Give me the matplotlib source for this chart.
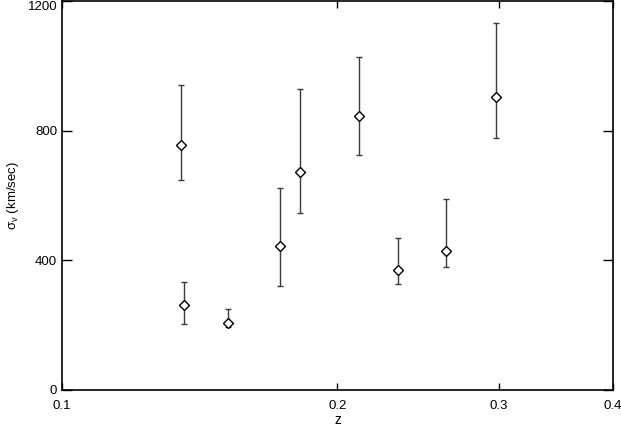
import numpy as np
import matplotlib
matplotlib.use("Agg")
import matplotlib.pyplot as plt
import matplotlib.transforms as mtransforms
from matplotlib.ticker import FixedLocator, NullLocator, FixedFormatter

# redshift and velocity dispersion, with asymmetric errors
z = [0.135, 0.136, 0.152, 0.173, 0.182, 0.211, 0.233, 0.263, 0.298]
sigma = [757, 261, 208, 443, 673, 846, 371, 428, 905]
err_hi = [941, 333, 250, 622, 929, 1028, 470, 590, 1132]
err_lo = [649, 203, 193, 320, 545, 726, 328, 378, 776]

xticks = [0.1, 0.2, 0.3, 0.4]
xlabels = ['0.1', '0.2', '0.3', '0.4']
yticks = [0, 400, 800, 1200]

plt.rcParams['font.family'] = ['Liberation Sans', 'DejaVu Sans']
plt.rcParams['mathtext.default'] = 'regular'

fig = plt.figure(figsize=(6.21, 4.28), dpi=100)
ax = fig.add_axes([0.0998, 0.0888, 0.8872, 0.9089])

sig = np.array(sigma)
yerr = [sig - np.array(err_lo), np.array(err_hi) - sig]
ax.errorbar(z, sigma, yerr=yerr, fmt='D', mfc='white', mec='black', mew=1.0,
            ms=5.2, ecolor='#3a3a3a', elinewidth=1.0, capsize=2, capthick=1.0)

ax.set_xscale('log')
ax.set_xlim(0.1, 0.4)
ax.set_ylim(0, 1200)
ax.xaxis.set_major_locator(FixedLocator(xticks))
ax.xaxis.set_major_formatter(FixedFormatter(xlabels))
ax.xaxis.set_minor_locator(NullLocator())
ax.set_yticks(yticks)

ax.tick_params(axis='x', direction='in', top=True, length=5, width=1,
               labelsize=9.5, pad=7)
ax.tick_params(axis='y', direction='in', right=True, length=7.5, width=1,
               labelsize=9.5, pad=3.5)
for s in ax.spines.values():
    s.set_linewidth(1.2)

ax.set_xlabel('z', fontsize=10, labelpad=1)
ax.set_ylabel('σ$_{v}$ (km/sec)', fontsize=9.5, labelpad=4)
ax.yaxis.set_label_coords(-0.075, 0.5)

# keep the top label inside the canvas
top_lbl = ax.get_yticklabels()[-1]
top_lbl.set_transform(top_lbl.get_transform() +
                      mtransforms.ScaledTranslation(0, -3 / 72, fig.dpi_scale_trans))

fig.savefig('out.png', dpi=100)
